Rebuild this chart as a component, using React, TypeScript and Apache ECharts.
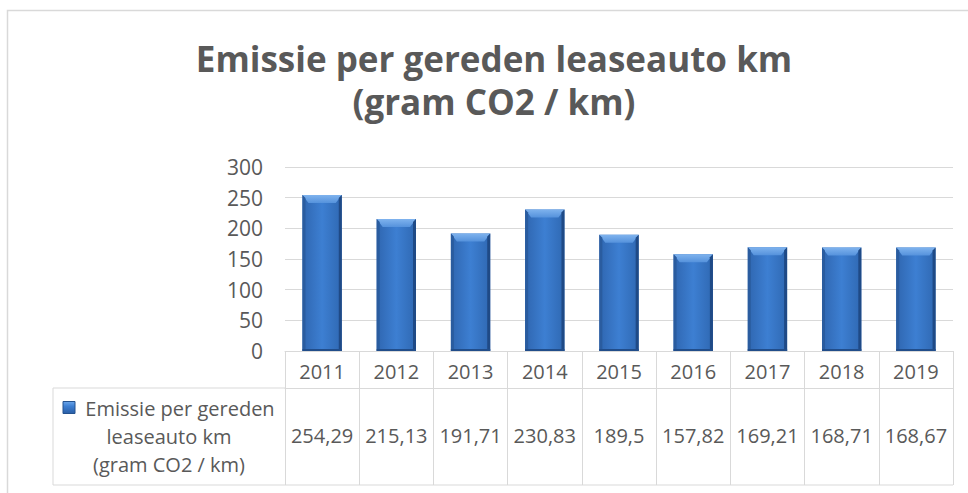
import React, { useEffect, useRef } from "react";
import * as echarts from "echarts";

const years = ["2011", "2012", "2013", "2014", "2015", "2016", "2017", "2018", "2019"];
const emissions = [254.29, 215.13, 191.71, 230.83, 189.5, 157.82, 169.21, 168.71, 168.67];
const yTicks = [0, 50, 100, 150, 200, 250, 300];
const titleLines = ["Emissie per gereden leaseauto km", "(gram CO2 / km)"];
const seriesNameLines = ["Emissie per gereden", "leaseauto km", "(gram CO2 / km)"];

const W = 968;
const H = 493;
const GRID_LEFT = 285;
const GRID_RIGHT = 15;
const GRID_TOP = 167;
const GRID_BOTTOM = 142;
const YEAR_ROW_H = 37;
const VALUE_ROW_H = 97;
const LEGEND_LEFT = 53;
const TEXT = "#595959";
const BORDER = "#d9d9d9";
const FONT = "'Open Sans', 'Noto Sans', sans-serif";

const fmt = (v: number) => String(v).replace(".", ",");

export default function App() {
  const ref = useRef<HTMLDivElement>(null);
  useEffect(() => {
    if (!ref.current) return;
    const chart = echarts.init(ref.current, null, { renderer: "svg", width: W, height: H });
    const axisY = H - GRID_BOTTOM;
    const rowTop = axisY + YEAR_ROW_H;
    const rowBottom = rowTop + VALUE_ROW_H;
    const legendCx = (LEGEND_LEFT + GRID_LEFT) / 2;
    const lineH = 28;
    const rowMid = (rowTop + rowBottom) / 2;

    const option: any = {
      animation: false,
      backgroundColor: "#ffffff",
      textStyle: { fontFamily: FONT },
      grid: { left: GRID_LEFT, right: GRID_RIGHT, top: GRID_TOP, bottom: GRID_BOTTOM },
      xAxis: [
        {
          type: "category",
          data: years,
          position: "bottom",
          axisLine: { show: true, lineStyle: { color: BORDER, width: 1 } },
          axisTick: { show: true, alignWithLabel: false, length: YEAR_ROW_H, lineStyle: { color: BORDER } },
          axisLabel: { color: TEXT, fontSize: 20, fontFamily: FONT, margin: 10, interval: 0 },
          splitLine: { show: false },
        },
        {
          type: "category",
          data: emissions.map(fmt),
          position: "bottom",
          offset: YEAR_ROW_H,
          axisLine: { show: true, lineStyle: { color: BORDER, width: 1 } },
          axisTick: { show: true, alignWithLabel: false, length: VALUE_ROW_H, lineStyle: { color: BORDER } },
          axisLabel: { color: TEXT, fontSize: 20, fontFamily: FONT, margin: VALUE_ROW_H / 2 - 11, interval: 0, hideOverlap: false },
          splitLine: { show: false },
        },
      ],
      yAxis: {
        type: "value",
        min: yTicks[0],
        max: yTicks[yTicks.length - 1],
        interval: yTicks[1] - yTicks[0],
        axisLine: { show: false },
        axisTick: { show: false },
        axisLabel: { color: TEXT, fontSize: 21, fontFamily: FONT, margin: 22 },
        splitLine: { lineStyle: { color: BORDER, width: 1 } },
      },
      series: [
        {
          type: "custom",
          name: seriesNameLines.join(" "),
          xAxisIndex: 0,
          data: emissions.map((v, i) => [i, v]),
          renderItem: (params: any, api: any) => {
            const idx = api.value(0);
            const val = api.value(1);
            const top = api.coord([idx, val]);
            const base = api.coord([idx, 0]);
            const bw = api.size([1, 0])[0] * 0.53;
            const x0 = top[0] - bw / 2;
            const x1 = top[0] + bw / 2;
            const y0 = top[1];
            const y1 = base[1];
            const b = 6;
            return {
              type: "group",
              children: [
                {
                  type: "rect",
                  shape: { x: x0, y: y0, width: bw, height: y1 - y0 },
                  style: {
                    fill: new echarts.graphic.LinearGradient(0, 0, 1, 0, [
                      { offset: 0, color: "#2f66b0" },
                      { offset: 0.5, color: "#3d7fd2" },
                      { offset: 1, color: "#2f68b2" },
                    ]),
                  },
                },
                {
                  type: "polygon",
                  shape: { points: [[x0, y0], [x1, y0], [x1 - b, y0 + b + 2], [x0 + b, y0 + b + 2]] },
                  style: {
                    fill: new echarts.graphic.LinearGradient(0, 0, 0, 1, [
                      { offset: 0, color: "#7fb3ee" },
                      { offset: 1, color: "#5592dc" },
                    ]),
                  },
                },
                {
                  type: "polygon",
                  shape: { points: [[x0, y0], [x0 + 3, y0 + 3], [x0 + 3, y1 - 2], [x0, y1]] },
                  style: { fill: "#2a5c9f" },
                },
                {
                  type: "polygon",
                  shape: { points: [[x1, y0], [x1 - 3, y0 + 3], [x1 - 3, y1 - 2], [x1, y1]] },
                  style: { fill: "#1f4a86" },
                },
                {
                  type: "rect",
                  shape: { x: x0, y: y1 - 2, width: bw, height: 2 },
                  style: { fill: "#214d8a" },
                },
              ],
            };
          },
        },
      ],
      graphic: [
        {
          type: "rect",
          shape: { x: 7.5, y: 10.5, width: 1100, height: 700 },
          style: { fill: "none", stroke: BORDER, lineWidth: 1.5 },
          silent: true,
          z: -10,
        },
        {
          type: "text",
          x: 494,
          y: 58,
          style: {
            text: titleLines[0],
            fill: TEXT,
            font: `bold 35px ${FONT}`,
            align: "center",
            verticalAlign: "middle",
          },
        },
        {
          type: "text",
          x: 494,
          y: 101,
          style: {
            text: titleLines[1],
            fill: TEXT,
            font: `bold 35px ${FONT}`,
            align: "center",
            verticalAlign: "middle",
          },
        },
        {
          type: "line",
          shape: { x1: LEGEND_LEFT, y1: rowTop, x2: GRID_LEFT, y2: rowTop },
          style: { stroke: BORDER, lineWidth: 1 },
        },
        {
          type: "line",
          shape: { x1: LEGEND_LEFT, y1: rowTop, x2: LEGEND_LEFT, y2: rowBottom },
          style: { stroke: BORDER, lineWidth: 1 },
        },
        {
          type: "line",
          shape: { x1: LEGEND_LEFT, y1: rowBottom, x2: W - GRID_RIGHT, y2: rowBottom },
          style: { stroke: BORDER, lineWidth: 1 },
        },
        {
          type: "rect",
          shape: { x: 63, y: rowMid - lineH - 7, width: 12, height: 12 },
          style: {
            fill: new echarts.graphic.LinearGradient(0, 0, 0, 1, [
              { offset: 0, color: "#6aa5ea" },
              { offset: 0.4, color: "#3d7fd2" },
              { offset: 1, color: "#2a5ea5" },
            ]),
            stroke: "#24528f",
            lineWidth: 1,
          },
        },
        {
          type: "text",
          x: 180,
          y: rowMid - lineH,
          style: { text: seriesNameLines[0], fill: TEXT, font: `20px ${FONT}`, align: "center", verticalAlign: "middle" },
        },
        {
          type: "text",
          x: legendCx,
          y: rowMid,
          style: { text: seriesNameLines[1], fill: TEXT, font: `20px ${FONT}`, align: "center", verticalAlign: "middle" },
        },
        {
          type: "text",
          x: legendCx,
          y: rowMid + lineH,
          style: { text: seriesNameLines[2], fill: TEXT, font: `20px ${FONT}`, align: "center", verticalAlign: "middle" },
        },
      ],
    };
    chart.setOption(option);
    return () => chart.dispose();
  }, []);
  return <div ref={ref} style={{ position: "fixed", left: 0, top: 0, width: W, height: H }} />;
}
